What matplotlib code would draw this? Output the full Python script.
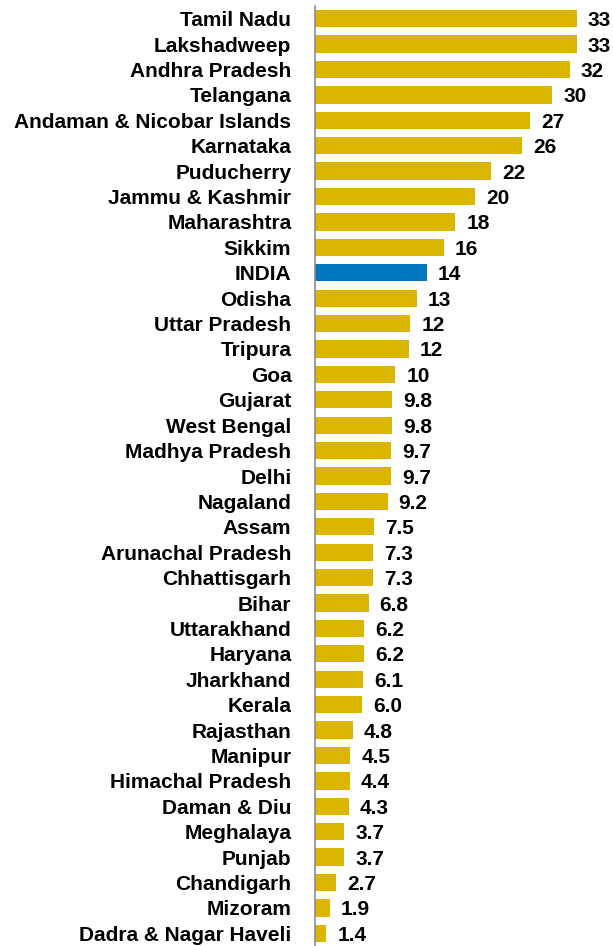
import matplotlib
matplotlib.use("Agg")
import matplotlib.pyplot as plt

states = ["Tamil Nadu", "Lakshadweep", "Andhra Pradesh", "Telangana",
          "Andaman & Nicobar Islands", "Karnataka", "Puducherry", "Jammu & Kashmir",
          "Maharashtra", "Sikkim", "INDIA", "Odisha", "Uttar Pradesh", "Tripura",
          "Goa", "Gujarat", "West Bengal", "Madhya Pradesh", "Delhi", "Nagaland",
          "Assam", "Arunachal Pradesh", "Chhattisgarh", "Bihar", "Uttarakhand",
          "Haryana", "Jharkhand", "Kerala", "Rajasthan", "Manipur",
          "Himachal Pradesh", "Daman & Diu", "Meghalaya", "Punjab", "Chandigarh",
          "Mizoram", "Dadra & Nagar Haveli"]
values = [33.2, 33.2, 32.3, 30.1, 27.3, 26.3, 22.3, 20.3, 17.8, 16.3, 14.2, 12.9,
          12.1, 11.9, 10.2, 9.8, 9.8, 9.7, 9.7, 9.2, 7.5, 7.3, 7.3, 6.8, 6.2,
          6.2, 6.1, 6.0, 4.8, 4.5, 4.4, 4.3, 3.7, 3.7, 2.7, 1.9, 1.4]
labels = ["33", "33", "32", "30", "27", "26", "22", "20", "18", "16", "14", "13",
          "12", "12", "10", "9.8", "9.8", "9.7", "9.7", "9.2", "7.5", "7.3", "7.3",
          "6.8", "6.2", "6.2", "6.1", "6.0", "4.8", "4.5", "4.4", "4.3", "3.7",
          "3.7", "2.7", "1.9", "1.4"]

gold = "#DAB600"
blue = "#0077C0"
colors = [blue if s == "INDIA" else gold for s in states]

plt.rcParams['font.family'] = ['Liberation Sans', 'DejaVu Sans']

fig = plt.figure(figsize=(6.13, 9.46), dpi=100)
ax = fig.add_axes([315/613, 0.0, 1 - 315/613, 940/946])
y = list(range(len(states)))
ax.barh(y, values, height=0.68, color=colors)
ax.set_ylim(len(states) - 0.5, -0.5)
ax.set_xlim(0, 37.8)
ax.set_yticks(y)
ax.set_yticklabels(states, fontsize=15, fontweight='bold')
ax.tick_params(axis='y', length=0, pad=17)
ax.set_xticks([])
for s in ["top", "right", "bottom"]:
    ax.spines[s].set_visible(False)
ax.spines["left"].set_color("#8C8C8C")
ax.spines["left"].set_linewidth(1.2)
for yi, v, lab in zip(y, values, labels):
    ax.annotate(lab, (v, yi), xytext=(8, 0), textcoords="offset points",
                va="center_baseline", ha="left", fontsize=15, fontweight='bold')

fig.savefig("out.png", dpi=100)
